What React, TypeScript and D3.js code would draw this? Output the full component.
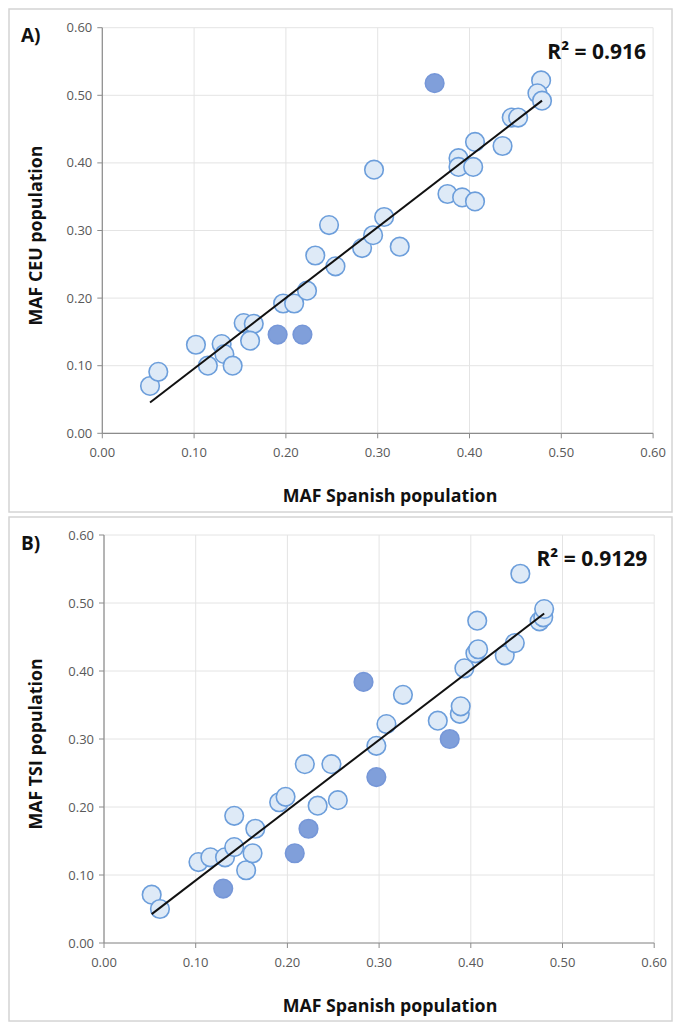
import { useMemo } from "react";
import * as d3 from "d3";

// MAF values: [spanish, other, highlighted]
const ceuPoints: [number, number, number][] = [
  [0.052, 0.07, 0], [0.061, 0.091, 0], [0.102, 0.131, 0], [0.115, 0.1, 0],
  [0.13, 0.132, 0], [0.133, 0.117, 0], [0.142, 0.1, 0], [0.154, 0.163, 0],
  [0.165, 0.162, 0], [0.161, 0.137, 0], [0.191, 0.146, 1], [0.218, 0.146, 1],
  [0.197, 0.192, 0], [0.209, 0.192, 0], [0.223, 0.211, 0], [0.232, 0.263, 0],
  [0.254, 0.247, 0], [0.247, 0.308, 0], [0.283, 0.274, 0], [0.295, 0.293, 0],
  [0.307, 0.32, 0], [0.362, 0.518, 1], [0.478, 0.522, 0], [0.474, 0.503, 0],
  [0.479, 0.492, 0], [0.446, 0.467, 0], [0.453, 0.467, 0], [0.406, 0.431, 0],
  [0.436, 0.425, 0], [0.388, 0.407, 0], [0.388, 0.394, 0], [0.404, 0.394, 0],
  [0.296, 0.39, 0], [0.376, 0.354, 0], [0.392, 0.349, 0], [0.406, 0.343, 0],
  [0.324, 0.276, 0],
];

const tsiPoints: [number, number, number][] = [
  [0.052, 0.071, 0], [0.061, 0.05, 0], [0.103, 0.119, 0], [0.116, 0.126, 0],
  [0.132, 0.126, 0], [0.13, 0.08, 1], [0.142, 0.141, 0], [0.142, 0.187, 0],
  [0.155, 0.107, 0], [0.162, 0.132, 0], [0.165, 0.168, 0], [0.191, 0.207, 0],
  [0.198, 0.215, 0], [0.208, 0.132, 1], [0.223, 0.168, 1], [0.219, 0.263, 0],
  [0.233, 0.202, 0], [0.248, 0.263, 0], [0.255, 0.21, 0], [0.297, 0.29, 0],
  [0.297, 0.244, 1], [0.308, 0.322, 0], [0.283, 0.384, 1], [0.326, 0.365, 0],
  [0.364, 0.327, 0], [0.388, 0.337, 0], [0.389, 0.348, 0], [0.377, 0.3, 1],
  [0.393, 0.404, 0], [0.405, 0.426, 0], [0.408, 0.432, 0], [0.407, 0.474, 0],
  [0.437, 0.423, 0], [0.448, 0.441, 0], [0.454, 0.543, 0], [0.475, 0.473, 0],
  [0.479, 0.479, 0], [0.48, 0.491, 0],
];

const ticks = [0, 0.1, 0.2, 0.3, 0.4, 0.5, 0.6];
const xTitle = "MAF Spanish population";

const font = "'Open Sans', 'Liberation Sans', sans-serif";

type PanelProps = {
  tag: string;
  r2: string;
  yTitle: string;
  points: [number, number, number][];
  frame: { x: number; y: number; w: number; h: number };
  px: [number, number];
  py: [number, number];
};

function fit(points: [number, number, number][]) {
  const mx = d3.mean(points, (d) => d[0])!;
  const my = d3.mean(points, (d) => d[1])!;
  const sxy = d3.sum(points, (d) => (d[0] - mx) * (d[1] - my));
  const sxx = d3.sum(points, (d) => (d[0] - mx) ** 2);
  const slope = sxy / sxx;
  return { slope, intercept: my - slope * mx };
}

function Panel({ tag, r2, yTitle, points, frame, px, py }: PanelProps) {
  const x = d3.scaleLinear().domain([0, 0.6]).range(px);
  const y = d3.scaleLinear().domain([0, 0.6]).range(py);
  const { slope, intercept } = useMemo(() => fit(points), [points]);
  const [x0, x1] = d3.extent(points, (d) => d[0]) as [number, number];
  const line = d3.line<number>()
    .x((d) => x(d))
    .y((d) => y(slope * d + intercept));

  return (
    <g fontFamily={font}>
      <rect x={frame.x} y={frame.y} width={frame.w} height={frame.h}
        fill="#fff" stroke="#d4d4d4" strokeWidth={1.5} />
      {ticks.map((t) => (
        <g key={"g" + t}>
          <line x1={x(t)} x2={x(t)} y1={py[0]} y2={py[1]} stroke="#e4e4e4" />
          <line x1={px[0]} x2={px[1]} y1={y(t)} y2={y(t)} stroke="#e4e4e4" />
        </g>
      ))}
      <line x1={px[0]} x2={px[0]} y1={py[0]} y2={py[1]} stroke="#8c8c8c" strokeWidth={1.2} />
      <line x1={px[0]} x2={px[1]} y1={py[0]} y2={py[0]} stroke="#8c8c8c" strokeWidth={1.2} />
      {ticks.map((t) => (
        <g key={"t" + t}>
          <line x1={px[0] - 5} x2={px[0]} y1={y(t)} y2={y(t)} stroke="#8c8c8c" />
          <line x1={x(t)} x2={x(t)} y1={py[0]} y2={py[0] + 5} stroke="#8c8c8c" />
          <text x={px[0] - 10} y={y(t)} dy="0.35em" textAnchor="end"
            fontSize={13} fill="#595959">{d3.format(".2f")(t)}</text>
          <text x={x(t)} y={py[0] + 24} textAnchor="middle"
            fontSize={13} fill="#595959">{d3.format(".2f")(t)}</text>
        </g>
      ))}
      {points.map((d, i) => (
        <circle key={i} cx={x(d[0])} cy={y(d[1])} r={9.3}
          fill={d[2] ? "#809fda" : "#deeaf7"}
          stroke={d[2] ? "#7697d8" : "#6c9edb"} strokeWidth={1.6} />
      ))}
      <path d={line([x0, x1]) ?? ""} fill="none" stroke="#111" strokeWidth={2} />
      <text x={21} y={frame.y + 33} fontSize={19} fontWeight={700} fill="#111">{tag}</text>
      <text x={px[1] - 7} y={py[1] + 31} textAnchor="end" fontSize={21}
        fontWeight={700} fill="#111">{r2}</text>
      <text transform={`translate(${36},${(py[0] + py[1]) / 2 + 5}) rotate(-90)`}
        textAnchor="middle" dy="0.35em" fontSize={17.8} fontWeight={700} fill="#111">{yTitle}</text>
      <text x={390} y={py[0] + 69} textAnchor="middle" fontSize={17.8}
        fontWeight={700} fill="#111">{xTitle}</text>
    </g>
  );
}

export default function App() {
  return (
    <svg width={681} height={1026}
      style={{ position: "absolute", left: 0, top: 0, display: "block" }}>
      <rect width={681} height={1026} fill="#fff" />
      <Panel tag="A)" r2="R² = 0.916" yTitle="MAF CEU population" points={ceuPoints}
        frame={{ x: 9, y: 9, w: 663, h: 503 }} px={[102.3, 653.1]} py={[433.3, 27.7]} />
      <Panel tag="B)" r2="R² = 0.9129" yTitle="MAF TSI population" points={tsiPoints}
        frame={{ x: 9, y: 517, w: 663, h: 504 }} px={[104, 654.2]} py={[943, 535]} />
    </svg>
  );
}
